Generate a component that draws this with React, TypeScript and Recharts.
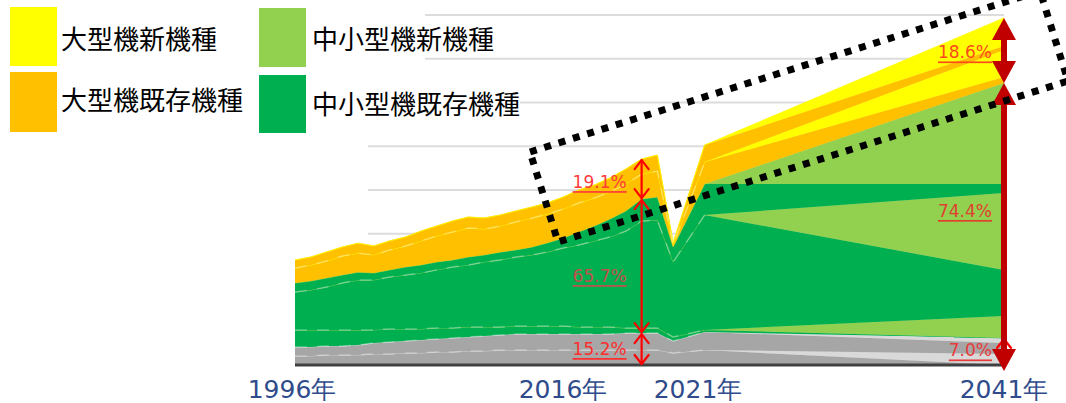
import React from 'react';
import { ComposedChart, Area, Line, XAxis, YAxis, CartesianGrid, ReferenceLine } from 'recharts';

// ---------- data ----------
const years = [1996, 1997, 1998, 1999, 2000, 2001, 2002, 2003, 2004, 2005, 2006, 2007, 2008, 2009, 2010, 2011, 2012, 2013, 2014, 2015, 2016, 2017, 2018, 2019, 2020, 2022, 2041];

const grayAExisting = [1030, 1030, 1140, 1140, 1140, 1260, 1260, 1370, 1370, 1490, 1490, 1600, 1600, 1710, 1710, 1710, 1710, 1710, 1710, 1710, 1710, 1710, 1710, 1710, 1370, 1710, 0];
const grayANew = [0, 0, 0, 0, 0, 0, 0, 0, 0, 0, 0, 0, 0, 0, 0, 0, 0, 0, 0, 0, 0, 0, 0, 0, 0, 0, 1260];
const grayBExisting = [1030, 1030, 1030, 1030, 1140, 1260, 1370, 1370, 1490, 1490, 1600, 1600, 1710, 1710, 1830, 1830, 1830, 1830, 1830, 1830, 1830, 1940, 1940, 1940, 1370, 2060, 1260];
const grayBNew = [0, 0, 0, 0, 0, 0, 0, 0, 0, 0, 0, 0, 0, 0, 0, 0, 0, 0, 0, 0, 0, 0, 0, 0, 0, 0, 570];
const smallAExisting = [1940, 1940, 1830, 1830, 1710, 1490, 1490, 1370, 1260, 1260, 1140, 1140, 1030, 910, 910, 910, 910, 910, 800, 800, 800, 570, 570, 570, 460, 230, 0];
const smallANew = [0, 0, 0, 0, 0, 0, 0, 0, 0, 0, 0, 0, 0, 0, 0, 0, 0, 0, 0, 0, 0, 0, 0, 0, 0, 0, 2510];
const smallBExisting = [4340, 4570, 4910, 5370, 5710, 5710, 5940, 6170, 6400, 6630, 6970, 7090, 7430, 7660, 7890, 8110, 8460, 8910, 9370, 9830, 10290, 11090, 12230, 12340, 8570, 13140, 5260];
const smallBNew = [0, 0, 0, 0, 0, 0, 0, 0, 0, 0, 0, 0, 0, 0, 0, 0, 0, 0, 0, 0, 0, 0, 0, 0, 0, 0, 8800];
const smallCExisting = [1030, 1030, 1030, 910, 910, 800, 800, 910, 910, 910, 800, 910, 800, 910, 800, 910, 1030, 1140, 1490, 1710, 2060, 2290, 2510, 2630, 1710, 3540, 1030];
const smallCNew = [0, 0, 0, 0, 0, 0, 0, 0, 0, 0, 0, 0, 0, 0, 0, 0, 0, 0, 0, 0, 0, 0, 0, 0, 0, 0, 11540];
const largeAExisting = [1710, 1830, 1940, 2170, 2170, 2060, 2290, 2400, 2740, 2970, 3200, 3310, 2970, 2970, 3200, 3310, 3310, 3310, 3310, 3200, 3090, 3090, 2860, 2970, 230, 2510, 690];
const largeANew = [0, 0, 0, 0, 0, 0, 0, 0, 0, 0, 0, 0, 0, 0, 0, 0, 0, 0, 0, 0, 0, 0, 0, 0, 0, 0, 3090];
const largeBExisting = [910, 910, 1030, 1030, 1140, 1030, 1030, 1030, 1140, 1140, 1260, 1260, 1260, 1260, 1260, 1260, 1260, 1370, 1490, 1490, 1600, 1710, 1710, 1830, 230, 1940, 460];
const largeBNew = [0, 0, 0, 0, 0, 0, 0, 0, 0, 0, 0, 0, 0, 0, 0, 0, 0, 0, 0, 0, 0, 0, 0, 0, 0, 0, 3200];

const legendLabels = ['大型機新機種', '大型機既存機種', '中小型機新機種', '中小型機既存機種'];
const axisLabels = ['1996年', '2016年', '2021年', '2041年'];
const shareYearNow = 2018;
const shareYearEnd = 2041;
const shareLabelsNow = ['19.1%', '65.7%', '15.2%'];
const shareLabelsEnd = ['18.6%', '74.4%', '7.0%'];
const histEndYear = 2022;
const gridValues = [5000, 10000, 15000, 20000, 25000, 30000, 35000, 40000];

// ---------- styles ----------
const C_YELLOW = '#ffff00';
const C_ORANGE = '#ffc000';
const C_LGREEN = '#92d050';
const C_GREEN = '#00b050';
const C_GRAY = '#a6a6a6';
const C_LGRAY = '#d9d9d9';

const SERIES = [
  { key: 'grayAExisting', values: grayAExisting, color: C_GRAY },
  { key: 'grayANew', values: grayANew, color: C_LGRAY },
  { key: 'grayBExisting', values: grayBExisting, color: C_GRAY },
  { key: 'grayBNew', values: grayBNew, color: C_LGRAY },
  { key: 'smallAExisting', values: smallAExisting, color: C_GREEN },
  { key: 'smallANew', values: smallANew, color: C_LGREEN },
  { key: 'smallBExisting', values: smallBExisting, color: C_GREEN },
  { key: 'smallBNew', values: smallBNew, color: C_LGREEN },
  { key: 'smallCExisting', values: smallCExisting, color: C_GREEN },
  { key: 'smallCNew', values: smallCNew, color: C_LGREEN },
  { key: 'largeAExisting', values: largeAExisting, color: C_ORANGE },
  { key: 'largeANew', values: largeANew, color: C_YELLOW },
  { key: 'largeBExisting', values: largeBExisting, color: C_ORANGE },
  { key: 'largeBNew', values: largeBNew, color: C_YELLOW },
];

// separators drawn as faint dashed lines over the historical part (cumulative tops of these series)
const SEPARATOR_AFTER = ['grayANew', 'grayBNew', 'smallANew', 'smallBNew', 'largeANew'];

const data = years.map((year, i) => {
  const row: any = { year };
  let cum = 0;
  SERIES.forEach((s) => {
    row[s.key] = s.values[i];
    cum += s.values[i];
    if (SEPARATOR_AFTER.includes(s.key)) {
      row['sep_' + s.key] = year <= histEndYear ? cum : null;
    }
  });
  return row;
});

const sumRange = (idx: number, from: number, to: number) => {
  let t = 0;
  for (let k = from; k < to; k++) t += SERIES[k].values[idx];
  return t;
};
const iNow = years.indexOf(shareYearNow);
const iEnd = years.indexOf(shareYearEnd);
const grayNow = sumRange(iNow, 0, 4);
const smallNow = sumRange(iNow, 0, 10);
const totalNow = sumRange(iNow, 0, 14);
const grayEnd = sumRange(iEnd, 0, 4);
const smallEnd = sumRange(iEnd, 0, 10);
const totalEnd = sumRange(iEnd, 0, 14);

// ---------- arrow shapes ----------
type ArrowOpts = {
  thick: boolean;
  label?: string;
  labelColor?: string;
  labelDx: number;
  labelDy: number;
  extendBottom?: number;
  topHead?: boolean;
};

const makeArrow = (o: ArrowOpts) => (p: any) => {
  const x = p.x1;
  const yb = Math.max(p.y1, p.y2) + (o.extendBottom || 0);
  const yt = Math.min(p.y1, p.y2);
  const ymid = (Math.max(p.y1, p.y2) + yt) / 2;
  const label = o.label ? (
    <text
      x={x - o.labelDx}
      y={ymid + o.labelDy}
      textAnchor="end"
      dominantBaseline="central"
      fontFamily="DejaVu Sans, sans-serif"
      fontSize={17}
      fill={o.labelColor}
      style={{ textDecoration: 'underline' }}
    >
      {o.label}
    </text>
  ) : null;
  if (o.thick) {
    const hw = 12;
    const hh = 22;
    return (
      <g>
        {label}
        <rect x={x - 3} y={yt + hh - 2} width={6} height={yb - yt - 2 * hh + 4} fill="#c00000" />
        {o.topHead !== false && <polygon points={`${x},${yt} ${x - hw},${yt + hh} ${x + hw},${yt + hh}`} fill="#c00000" />}
        <polygon points={`${x},${yb} ${x - hw},${yb - hh} ${x + hw},${yb - hh}`} fill="#c00000" />
      </g>
    );
  }
  return (
    <g>
      {label}
      <g stroke="#ff0000" strokeWidth={2.2} fill="none" strokeLinecap="round" strokeLinejoin="round">
        <line x1={x} y1={yt + 1} x2={x} y2={yb - 1} />
        <polyline points={`${x - 7},${yt + 10} ${x},${yt + 1} ${x + 7},${yt + 10}`} />
        <polyline points={`${x - 7},${yb - 10} ${x},${yb - 1} ${x + 7},${yb - 10}`} />
      </g>
    </g>
  );
};

const LABEL_FONT = '"Noto Sans CJK JP", "Noto Sans CJK SC", sans-serif';

export default function App() {
  return (
    <div style={{ position: 'absolute', left: 0, top: 0, width: 1066, height: 403, background: '#ffffff', overflow: 'hidden' }}>
      <ComposedChart width={1066} height={403} data={data} margin={{ top: 15, right: 62, bottom: 38, left: 295 }}>
        <CartesianGrid vertical={false} horizontalValues={gridValues} stroke="#dcdcdc" strokeWidth={2} x={368} width={636} />
        <XAxis dataKey="year" type="number" domain={[1996, 2041]} hide allowDataOverflow />
        <YAxis type="number" domain={[0, 40000]} hide allowDataOverflow />
        {SERIES.map((s) => (
          <Area
            key={s.key}
            dataKey={s.key}
            stackId="fleet"
            type="linear"
            fill={s.color}
            fillOpacity={1}
            stroke={s.color}
            strokeWidth={0.8}
            dot={false}
            activeDot={false}
            isAnimationActive={false}
          />
        ))}
        {SEPARATOR_AFTER.map((k) => (
          <Line
            key={'sep_' + k}
            dataKey={'sep_' + k}
            type="linear"
            stroke="#ffffff"
            strokeOpacity={0.32}
            strokeWidth={1.5}
            strokeDasharray="12 10"
            dot={false}
            activeDot={false}
            connectNulls={false}
            isAnimationActive={false}
          />
        ))}
        <ReferenceLine y={0} stroke="#404040" strokeWidth={3} ifOverflow="visible" />

        <ReferenceLine ifOverflow="visible" segment={[{ x: shareYearNow, y: 0 }, { x: shareYearNow, y: grayNow }]}
          shape={makeArrow({ thick: false, label: shareLabelsNow[2], labelColor: '#ff2d2d', labelDx: 15, labelDy: 0 })} />
        <ReferenceLine ifOverflow="visible" segment={[{ x: shareYearNow, y: grayNow }, { x: shareYearNow, y: smallNow }]}
          shape={makeArrow({ thick: false, label: shareLabelsNow[1], labelColor: '#c0504d', labelDx: 15, labelDy: 10 })} />
        <ReferenceLine ifOverflow="visible" segment={[{ x: shareYearNow, y: smallNow }, { x: shareYearNow, y: totalNow }]}
          shape={makeArrow({ thick: false, label: shareLabelsNow[0], labelColor: '#ff3b3b', labelDx: 15, labelDy: 3 })} />

        <ReferenceLine ifOverflow="visible" segment={[{ x: shareYearEnd, y: 0 }, { x: shareYearEnd, y: grayEnd }]}
          shape={makeArrow({ thick: false, label: shareLabelsEnd[2], labelColor: '#e83a3a', labelDx: 12, labelDy: -1 })} />
        <ReferenceLine ifOverflow="visible" segment={[{ x: shareYearEnd, y: 0 }, { x: shareYearEnd, y: smallEnd }]}
          shape={makeArrow({ thick: true, label: shareLabelsEnd[1], labelColor: '#e0402e', labelDx: 12, labelDy: -13, extendBottom: 6 })} />
        <ReferenceLine ifOverflow="visible" segment={[{ x: shareYearEnd, y: smallEnd }, { x: shareYearEnd, y: totalEnd }]}
          shape={makeArrow({ thick: true, label: shareLabelsEnd[0], labelColor: '#ff4a1c', labelDx: 12, labelDy: 2 })} />
      </ComposedChart>

      <svg width={1066} height={403} style={{ position: 'absolute', left: 0, top: 0, pointerEvents: 'none' }}>
        {/* legend background (covers gridlines behind the legend) */}
        <rect x={0} y={0} width={425} height={68} fill="#ffffff" />
        <rect x={0} y={68} width={520} height={60} fill="#ffffff" />
        <rect x={10} y={7} width={47} height={59} fill={C_YELLOW} />
        <rect x={10} y={72} width={47} height={60} fill={C_ORANGE} />
        <rect x={259} y={8} width={47} height={59} fill={C_LGREEN} />
        <rect x={259} y={75} width={47} height={58} fill={C_GREEN} />
        <g fontFamily={LABEL_FONT} fontSize={26} fill="#000000" dominantBaseline="central">
          <text x={61} y={37}>{legendLabels[0]}</text>
          <text x={61} y={98}>{legendLabels[1]}</text>
          <text x={312} y={37}>{legendLabels[2]}</text>
          <text x={312} y={102}>{legendLabels[3]}</text>
        </g>
        {/* axis labels */}
        <g fontFamily='"DejaVu Sans", sans-serif' fontSize={25} fill="#2f4b8c" textAnchor="middle">
          <text x={292} y={398}>{axisLabels[0]}</text>
          <text x={563} y={398}>{axisLabels[1]}</text>
          <text x={698} y={398}>{axisLabels[2]}</text>
          <text x={1004} y={398}>{axisLabels[3]}</text>
        </g>
        {/* dotted highlight frame */}
        <polygon
          points="530,152 1040,-9 1068,81 558,242"
          fill="none"
          stroke="#000000"
          strokeWidth={7}
          strokeDasharray="7 8"
        />
      </svg>
    </div>
  );
}
